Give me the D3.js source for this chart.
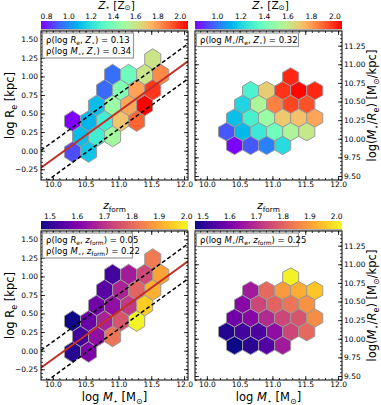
<!DOCTYPE html>
<html>
<head>
<meta charset="utf-8">
<script src="https://cdnjs.cloudflare.com/ajax/libs/d3/7.8.5/d3.min.js"></script>
<style>
body { margin: 0; background: #fff; }
text { font-family: "DejaVu Sans", sans-serif; fill: #000; }
</style>
</head>
<body>
<div id="chart"></div>
<script>
// hexbin cells, log M* vs log Re (left panels)
var leftLogM   = [11.523, 10.911, 11.156, 11.400, 11.645, 10.789, 11.034, 11.278, 11.523,
                  10.667, 10.911, 11.156, 11.400, 10.300, 10.545, 10.789, 11.034, 11.278,
                  10.422, 10.667, 10.911, 10.300, 10.545];
var leftLogRe  = [1.234, 1.025, 1.025, 1.025, 1.025, 0.817, 0.817, 0.817, 0.817,
                  0.608, 0.608, 0.608, 0.608, 0.399, 0.399, 0.399, 0.399, 0.399,
                  0.191, 0.191, 0.191, -0.018, -0.018];
var leftZ      = [1.60, 0.94, 1.36, 1.60, 1.83, 0.93, 1.41, 1.78, 1.98,
                  1.10, 1.48, 1.77, 2.07, 0.75, 1.08, 1.25, 1.70, 1.90,
                  1.10, 1.25, 1.50, 0.88, 1.12];
var leftZform  = [1.83, 1.52, 1.655, 1.74, 1.89, 1.55, 1.67, 1.79, 1.91,
                  1.585, 1.63, 1.71, 1.95, 1.47, 1.575, 1.67, 1.76, 2.00,
                  1.52, 1.63, 1.82, 1.49, 1.60];

// hexbin cells, log M* vs log(M*/Re) (right panels)
var rightLogM   = [11.278, 10.667, 10.911, 11.156, 11.400, 11.645, 10.545, 10.789, 11.034, 11.278, 11.523,
                   10.422, 10.667, 10.911, 11.156, 11.400, 11.645, 10.300, 10.545, 10.789, 11.034, 11.278, 11.523,
                   10.422, 10.667, 10.911, 11.156];
var rightLogMRe = [10.83, 10.646, 10.646, 10.646, 10.646, 10.646, 10.462, 10.462, 10.462, 10.462, 10.462,
                   10.278, 10.278, 10.278, 10.278, 10.278, 10.278, 10.094, 10.094, 10.094, 10.094, 10.094, 10.094,
                   9.91, 9.91, 9.91, 9.91];
var rightZ      = [2.00, 1.31, 1.69, 1.98, 2.05, 2.00, 1.20, 1.55, 1.85, 1.95, 1.93,
                   1.15, 1.30, 1.50, 1.70, 1.72, 1.78, 0.95, 1.13, 1.27, 1.40, 1.55, 1.60,
                   0.82, 0.95, 1.02, 1.22];
var rightZform  = [2.01, 1.66, 1.81, 1.89, 1.92, 1.955, 1.62, 1.745, 1.80, 1.83, 1.88,
                   1.59, 1.62, 1.69, 1.745, 1.77, 1.87, 1.49, 1.525, 1.54, 1.635, 1.745, 1.81,
                   1.47, 1.50, 1.55, 1.66];

// hex lattice steps (width in log M*, row spacing per panel)
var hexW = 0.2445, rowStepLeft = 0.2086, rowStepRight = 0.184;

// size-mass relation fit and scatter
var fitSlope = 0.64, fitIntercept = -6.515, fitScatter = 0.235;

// axes
var xDomain = [9.82, 12.06];
var yDomainLeft = [-0.395, 1.612];
var yDomainRight = [9.446, 11.447];
var xTicks = [10.0, 10.5, 11.0, 11.5, 12.0];
var yTicksLeft = [-0.25, 0.00, 0.25, 0.50, 0.75, 1.00, 1.25, 1.50];
var yTicksRight = [9.50, 9.75, 10.00, 10.25, 10.50, 10.75, 11.00, 11.25];

// colour bars
var zDomainLeft = [0.75, 2.07], zDomainRight = [0.81, 2.06];
var zfDomainLeft = [1.467, 2.005], zfDomainRight = [1.47, 2.02];
var zTicksLeft = [0.8, 1.0, 1.2, 1.4, 1.6, 1.8, 2.0];
var zTicksRight = [1.0, 1.2, 1.4, 1.6, 1.8, 2.0];
var zfTicks = [1.5, 1.6, 1.7, 1.8, 1.9, 2.0];

// correlation boxes
var corrTL = [[["ρ(log ", ""], ["R", "i"], ["e", "s"], [", ", ""], ["Z", "i"], ["⋆", "s"], [") = 0.13", ""]],
              [["ρ(log ", ""], ["M", "i"], ["⋆", "s"], [", ", ""], ["Z", "i"], ["⋆", "s"], [") = 0.34", ""]]];
var corrTR = [[["ρ(log ", ""], ["M", "i"], ["⋆", "s"], ["/", ""], ["R", "i"], ["e", "s"], [", ", ""], ["Z", "i"], ["⋆", "s"], [") = 0.32", ""]]];
var corrBL = [[["ρ(log ", ""], ["R", "i"], ["e", "s"], [", ", ""], ["z", "i"], ["form", "s"], [") = 0.05", ""]],
              [["ρ(log ", ""], ["M", "i"], ["⋆", "s"], [", ", ""], ["z", "i"], ["form", "s"], [") = 0.22", ""]]];
var corrBR = [[["ρ(log ", ""], ["M", "i"], ["⋆", "s"], ["/", ""], ["R", "i"], ["e", "s"], [", ", ""], ["z", "i"], ["form", "s"], [") = 0.25", ""]]];

var labelZ = [["Z", "i"], ["⋆", "s"], [" [Z", ""], ["⊙", "s"], ["]", ""]];
var labelZform = [["z", "i"], ["form", "s"]];
var labelRe = [["log R", ""], ["e", "s"], [" [kpc]", ""]];
var labelMRe = [["log(", ""], ["M", "i"], ["⋆", "s"], ["/", ""], ["R", "i"], ["e", "s"], [") [M", ""], ["⊙", "s"], ["/kpc]", ""]];
var labelM = [["log ", ""], ["M", "i"], ["⋆", "s"], [" [M", ""], ["⊙", "s"], ["]", ""]];

function rainbow(t) {
    var r = Math.min(1, Math.abs(2 * t - 0.5)),
        g = Math.max(0, Math.sin(Math.PI * t)),
        b = Math.max(0, Math.cos(Math.PI * t / 2));
    return d3.rgb(r * 255, g * 255, b * 255).toString();
}

function richText(sel, parts, fs, subShift) {
    var shift = 0, drop = subShift === undefined ? 0.25 : subShift;
    parts.forEach(function(p) {
        var ts = sel.append("tspan").text(p[0]);
        var target = p[1] === "s" ? fs * drop : 0;
        if (target !== shift) ts.attr("dy", target - shift);
        shift = target;
        if (p[1] === "s") ts.style("font-size", (fs * 0.7) + "px");
        if (p[1] === "i") ts.style("font-style", "italic");
    });
}

var W = 381, H = 405, pw = 147, ph = 149;

var svg = d3.select("#chart").append("svg")
    .attr("width", W).attr("height", H);

var defs = svg.append("defs");

var panels = [
    {id: "tl", x: 41, y: 31, side: "L", hx: leftLogM, hy: leftLogRe, c: leftZ, cmap: rainbow, cdom: zDomainLeft, cticks: zTicksLeft, ctitle: labelZ, corr: corrTL, boxW: 91, top: true},
    {id: "tr", x: 195, y: 31, side: "R", hx: rightLogM, hy: rightLogMRe, c: rightZ, cmap: rainbow, cdom: zDomainRight, cticks: zTicksRight, ctitle: labelZ, corr: corrTR, boxW: 102, top: true},
    {id: "bl", x: 41, y: 231, side: "L", hx: leftLogM, hy: leftLogRe, c: leftZform, cmap: d3.interpolatePlasma, cdom: zfDomainLeft, cticks: zfTicks, ctitle: labelZform, corr: corrBL, boxW: 90, top: false},
    {id: "br", x: 195, y: 231, side: "R", hx: rightLogM, hy: rightLogMRe, c: rightZform, cmap: d3.interpolatePlasma, cdom: zfDomainRight, cticks: zfTicks, ctitle: labelZform, corr: corrBR, boxW: 102, top: false}
];

var x = d3.scaleLinear().domain(xDomain).range([0, pw]);
var fmt1 = d3.format(".1f"), fmt2 = d3.format(".2f");

panels.forEach(function(p) {
    var y = d3.scaleLinear().domain(p.side === "L" ? yDomainLeft : yDomainRight).range([ph, 0]);
    var rowStep = p.side === "L" ? rowStepLeft : rowStepRight;
    var color = d3.scaleSequential(p.cmap).domain(p.cdom);

    // colour bar
    var grad = defs.append("linearGradient").attr("id", "grad-" + p.id);
    d3.range(0, 1.0001, 0.05).forEach(function(t) {
        grad.append("stop").attr("offset", t).attr("stop-color", p.cmap(t));
    });
    var cbg = svg.append("g").attr("transform", "translate(" + p.x + "," + (p.y - 10) + ")");
    cbg.append("rect").attr("width", pw).attr("height", 8).attr("fill", "url(#grad-" + p.id + ")");
    cbg.append("rect").attr("y", 8).attr("width", pw).attr("height", 1.6).attr("fill", "#b0b0b0");
    var cx = d3.scaleLinear().domain(p.cdom).range([0, pw]);
    cbg.append("g").selectAll("text").data(p.cticks).enter().append("text")
        .attr("x", function(d) { return cx(d); })
        .attr("y", -1.8)
        .attr("text-anchor", "middle")
        .style("font-size", "7.5px")
        .text(fmt1);
    var ct = cbg.append("text")
        .attr("x", pw / 2 + (p.top ? 2 : 0))
        .attr("y", p.top ? -12.3 : -12)
        .attr("text-anchor", "middle")
        .style("font-size", "10.5px");
    richText(ct, p.ctitle, 10.5, p.top ? 0.15 : 0.25);

    var g = svg.append("g").attr("transform", "translate(" + p.x + "," + p.y + ")");

    defs.append("clipPath").attr("id", "clip-" + p.id)
        .append("rect").attr("width", pw).attr("height", ph);

    // hexagons
    var cells = p.hx.map(function(v, i) { return {x: v, y: p.hy[i], c: p.c[i]}; });
    var hexPath = function(d) {
        var a = hexW / 2, b = rowStep / 3, t = rowStep * 2 / 3;
        var pts = [[d.x + a, d.y - b], [d.x + a, d.y + b], [d.x, d.y + t],
                   [d.x - a, d.y + b], [d.x - a, d.y - b], [d.x, d.y - t]];
        return "M" + pts.map(function(q) { return x(q[0]) + "," + y(q[1]); }).join("L") + "Z";
    };
    g.append("g").selectAll("path").data(cells).enter().append("path")
        .attr("d", hexPath)
        .attr("fill", function(d) { return color(d.c); })
        .attr("stroke", "#9a9a9a")
        .attr("stroke-width", 1);

    // fit lines on the size-mass panels
    if (p.side === "L") {
        var lg = g.append("g").attr("clip-path", "url(#clip-" + p.id + ")");
        var line = d3.line()
            .x(function(d) { return x(d); });
        [-fitScatter, fitScatter].forEach(function(off) {
            lg.append("path")
                .datum(xDomain)
                .attr("d", line.y(function(d) { return y(fitIntercept + fitSlope * d + off); }))
                .attr("fill", "none")
                .attr("stroke", "#000")
                .attr("stroke-width", 1.5)
                .attr("stroke-dasharray", "4,2.5");
        });
        lg.append("path")
            .datum(xDomain)
            .attr("d", line.y(function(d) { return y(fitIntercept + fitSlope * d); }))
            .attr("fill", "none")
            .attr("stroke", "#c0302a")
            .attr("stroke-width", 2);
    }

    // axes, ticks pointing inward
    var xMinor = d3.range(99, 121).map(function(v) { return v / 10; });
    var yd = y.domain();
    var yMinor = d3.range(Math.ceil(yd[0] / 0.05), Math.floor(yd[1] / 0.05) + 1).map(function(v) { return v * 0.05; });
    var yMajor = p.side === "L" ? yTicksLeft : yTicksRight;

    var axes = [
        [d3.axisBottom(x).tickValues(xTicks).tickFormat(fmt1).tickSize(-4).tickPadding(2), [0, ph]],
        [d3.axisBottom(x).tickValues(xMinor).tickFormat("").tickSize(-2), [0, ph]],
        [d3.axisTop(x).tickValues(xTicks).tickFormat("").tickSize(-4), [0, 0]],
        [d3.axisTop(x).tickValues(xMinor).tickFormat("").tickSize(-2), [0, 0]],
        [d3.axisLeft(y).tickValues(yMajor).tickFormat(p.side === "L" ? fmt2 : "").tickSize(-4).tickPadding(3), [0, 0]],
        [d3.axisLeft(y).tickValues(yMinor).tickFormat("").tickSize(-2), [0, 0]],
        [d3.axisRight(y).tickValues(yMajor).tickFormat(p.side === "R" ? fmt2 : "").tickSize(-4).tickPadding(2), [pw, 0]],
        [d3.axisRight(y).tickValues(yMinor).tickFormat("").tickSize(-2), [pw, 0]]
    ];
    axes.forEach(function(a) {
        var ag = g.append("g").attr("transform", "translate(" + a[1][0] + "," + a[1][1] + ")").call(a[0]);
        ag.select(".domain").remove();
        ag.selectAll("text").style("font-size", "7.5px").style("font-family", "DejaVu Sans");
        ag.selectAll("line").attr("stroke-width", 0.8);
    });

    g.append("rect").attr("width", pw).attr("height", ph)
        .attr("fill", "none").attr("stroke", "#000").attr("stroke-width", 1);

    // correlation box
    var bh = p.corr.length * 11.5 + 2;
    var box = g.append("g").attr("transform", "translate(1.5,2)");
    box.append("rect").attr("width", p.boxW).attr("height", bh)
        .attr("fill", "#fff").attr("stroke", "#999").attr("stroke-width", 1.2);
    p.corr.forEach(function(parts, i) {
        var t = box.append("text").attr("x", 3.5).attr("y", 9.5 + i * 11.5).style("font-size", "8.5px");
        richText(t, parts, 8.5);
    });

    // axis titles
    if (p.side === "L") {
        var yl = svg.append("text")
            .attr("transform", "translate(14," + (p.y + ph / 2) + ") rotate(-90)")
            .attr("text-anchor", "middle")
            .style("font-size", "11.5px");
        richText(yl, labelRe, 11.5);
    } else {
        var yr = svg.append("text")
            .attr("transform", "translate(376," + (p.y + ph / 2) + ") rotate(-90)")
            .attr("text-anchor", "middle")
            .style("font-size", "11.5px");
        richText(yr, labelMRe, 11.5);
    }
    if (!p.top) {
        var xl = svg.append("text")
            .attr("x", p.x + pw / 2).attr("y", 401)
            .attr("text-anchor", "middle")
            .style("font-size", "11.5px");
        richText(xl, labelM, 11.5);
    }
});
</script>
</body>
</html>
